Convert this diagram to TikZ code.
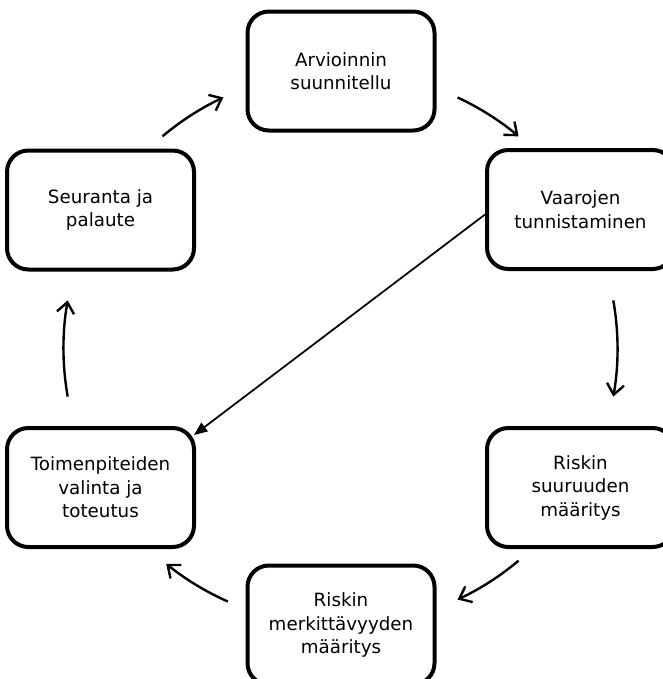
\documentclass[tikz,border=0pt]{standalone}
\usepackage{fontspec}
\setmainfont{DejaVu Sans}
\usetikzlibrary{arrows.meta,calc}
\tikzset{
  stagebox/.style={draw=black, line width=3pt, rounded corners=16pt, fill=white,
    minimum width=140.25pt, minimum height=89.25pt, align=center, inner sep=0pt,
    font=\fontsize{13.7pt}{17.6pt}\selectfont},
  cyclearrow/.style={line width=1.8pt, -{Straight Barb[length=8pt,width=13pt,line width=1.8pt]}},
  diagarrow/.style={line width=1.3pt, -{Triangle[length=10pt,width=8pt]}}
}
\begin{document}
\begin{tikzpicture}[x=0.75pt,y=-0.75pt]
\useasboundingbox (0,0) rectangle (662,679);
\fill[white] (0,0) rectangle (662,679);
\node[stagebox] (plan) at (341,71) {Arvioinnin\\suunnitellu};
\node[stagebox] (vaar) at (580.5,209.5) {Vaarojen\\tunnistaminen};
\node[stagebox] (riski) at (580.5,487.5) {Riskin\\suuruuden\\määritys};
\node[stagebox] (merk) at (341,625) {Riskin\\merkittävyyden\\määritys};
\node[stagebox] (toim) at (100.5,487.5) {Toimenpiteiden\\valinta ja\\toteutus};
\node[stagebox] (seur) at (100.5,210) {Seuranta ja\\palaute};
\coordinate (c) at (340.5,348.5);
\coordinate (s1) at ($(c)+(-65:277)$);
\coordinate (s2) at ($(c)+(-10:277)$);
\coordinate (s3) at ($(c)+(50:277)$);
\coordinate (s4) at ($(c)+(114:277)$);
\coordinate (s5) at ($(c)+(170:277)$);
\coordinate (s6) at ($(c)+(230:277)$);
\draw[cyclearrow] (s1) arc[start angle=-65, end angle=-50, radius=277];
\draw[cyclearrow] (s2) arc[start angle=-10, end angle=10, radius=277];
\draw[cyclearrow] (s3) arc[start angle=50, end angle=65, radius=277];
\draw[cyclearrow] (s4) arc[start angle=114, end angle=129, radius=277];
\draw[cyclearrow] (s5) arc[start angle=170, end angle=190, radius=277];
\draw[cyclearrow] (s6) arc[start angle=230, end angle=245, radius=277];
\draw[diagarrow] ($(vaar.west)+(0,5)$) -- ($(toim.north east)+(-2,9)$);
\end{tikzpicture}
\end{document}
